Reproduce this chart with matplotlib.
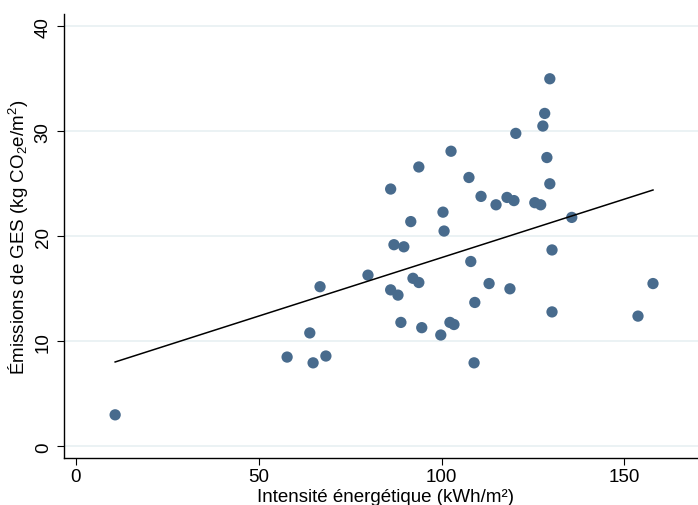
import numpy as np
import matplotlib
matplotlib.use('Agg')
import matplotlib.pyplot as plt

plt.rcParams['font.family'] = ['Liberation Sans', 'DejaVu Sans']
plt.rcParams['mathtext.fontset'] = 'custom'
plt.rcParams['mathtext.rm'] = 'Liberation Sans'
plt.rcParams['mathtext.it'] = 'Liberation Sans:italic'

# energy intensity (kWh/m2) and GHG emissions (kg CO2e/m2)
intensite = [10.8, 57.8, 64.0, 64.9, 66.8, 68.4, 79.9, 86.1, 86.1, 87.0,
             88.1, 88.9, 89.7, 91.6, 92.2, 93.8, 93.8, 94.6, 99.8, 100.4,
             100.7, 102.3, 102.6, 103.4, 107.5, 108.0, 108.9, 109.1, 110.8, 113.0,
             114.9, 117.9, 118.7, 119.8, 120.3, 125.5, 127.1, 127.7, 128.2, 128.8,
             129.6, 129.6, 130.2, 130.2, 135.6, 153.7, 157.8]
emissions = [3.0, 8.5, 10.8, 7.95, 15.2, 8.6, 16.3, 24.5, 14.9, 19.2,
             14.4, 11.8, 19.0, 21.4, 16.0, 15.6, 26.6, 11.3, 10.6, 22.3,
             20.5, 11.8, 28.1, 11.6, 25.6, 17.6, 7.95, 13.7, 23.8, 15.5,
             23.0, 23.7, 15.0, 23.4, 29.8, 23.2, 23.0, 30.5, 31.7, 27.5,
             35.0, 25.0, 18.7, 12.8, 21.8, 12.4, 15.5]

# fitted line as shown on the chart (intercept, slope)
fit_intercept = 6.83
fit_slope = 0.1114

xticks = [0, 50, 100, 150]
yticks = [0, 10, 20, 30, 40]

x = np.array(intensite)
y = np.array(emissions)
xfit = np.array([x.min(), x.max()])

fig = plt.figure(figsize=(6.98, 5.06), dpi=100)
ax = fig.add_axes([0.0921, 0.0929, 0.9079, 0.8775])

ax.set_axisbelow(True)
ax.grid(axis='y', color='#e8f0f2', linewidth=1.2)
ax.grid(axis='x', visible=False)

ax.scatter(x, y, s=66, color='#486b8d', edgecolors='none', zorder=3)
ax.plot(xfit, fit_intercept + fit_slope * xfit, color='black', linewidth=1.1, zorder=4)

ax.set_xlim(-3.1, 170.1)
ax.set_ylim(-1.11, 41.17)
ax.set_xticks(xticks)
ax.set_yticks(yticks)

for side in ['top', 'right']:
    ax.spines[side].set_visible(False)
for side in ['left', 'bottom']:
    ax.spines[side].set_linewidth(1.0)
    ax.spines[side].set_color('black')

ax.tick_params(axis='both', direction='out', length=5, width=0.8,
               labelsize=13.5, colors='black')
ax.tick_params(axis='x', pad=2)
ax.tick_params(axis='y', pad=4, labelrotation=90)
for lab in ax.get_yticklabels():
    lab.set_va('center')

ax.set_xlabel('Intensité énergétique (kWh/m²)', fontsize=13.5)
ax.set_ylabel('Émissions de GES (kg CO$_2$e/m$^2$)', fontsize=13.5)
ax.xaxis.set_label_coords(0.507, -0.0856)
ax.yaxis.set_label_coords(-0.071, 0.5)
ax.xaxis.label.set_va('center')
ax.yaxis.label.set_va('center')

fig.savefig('out.png', dpi=100)
